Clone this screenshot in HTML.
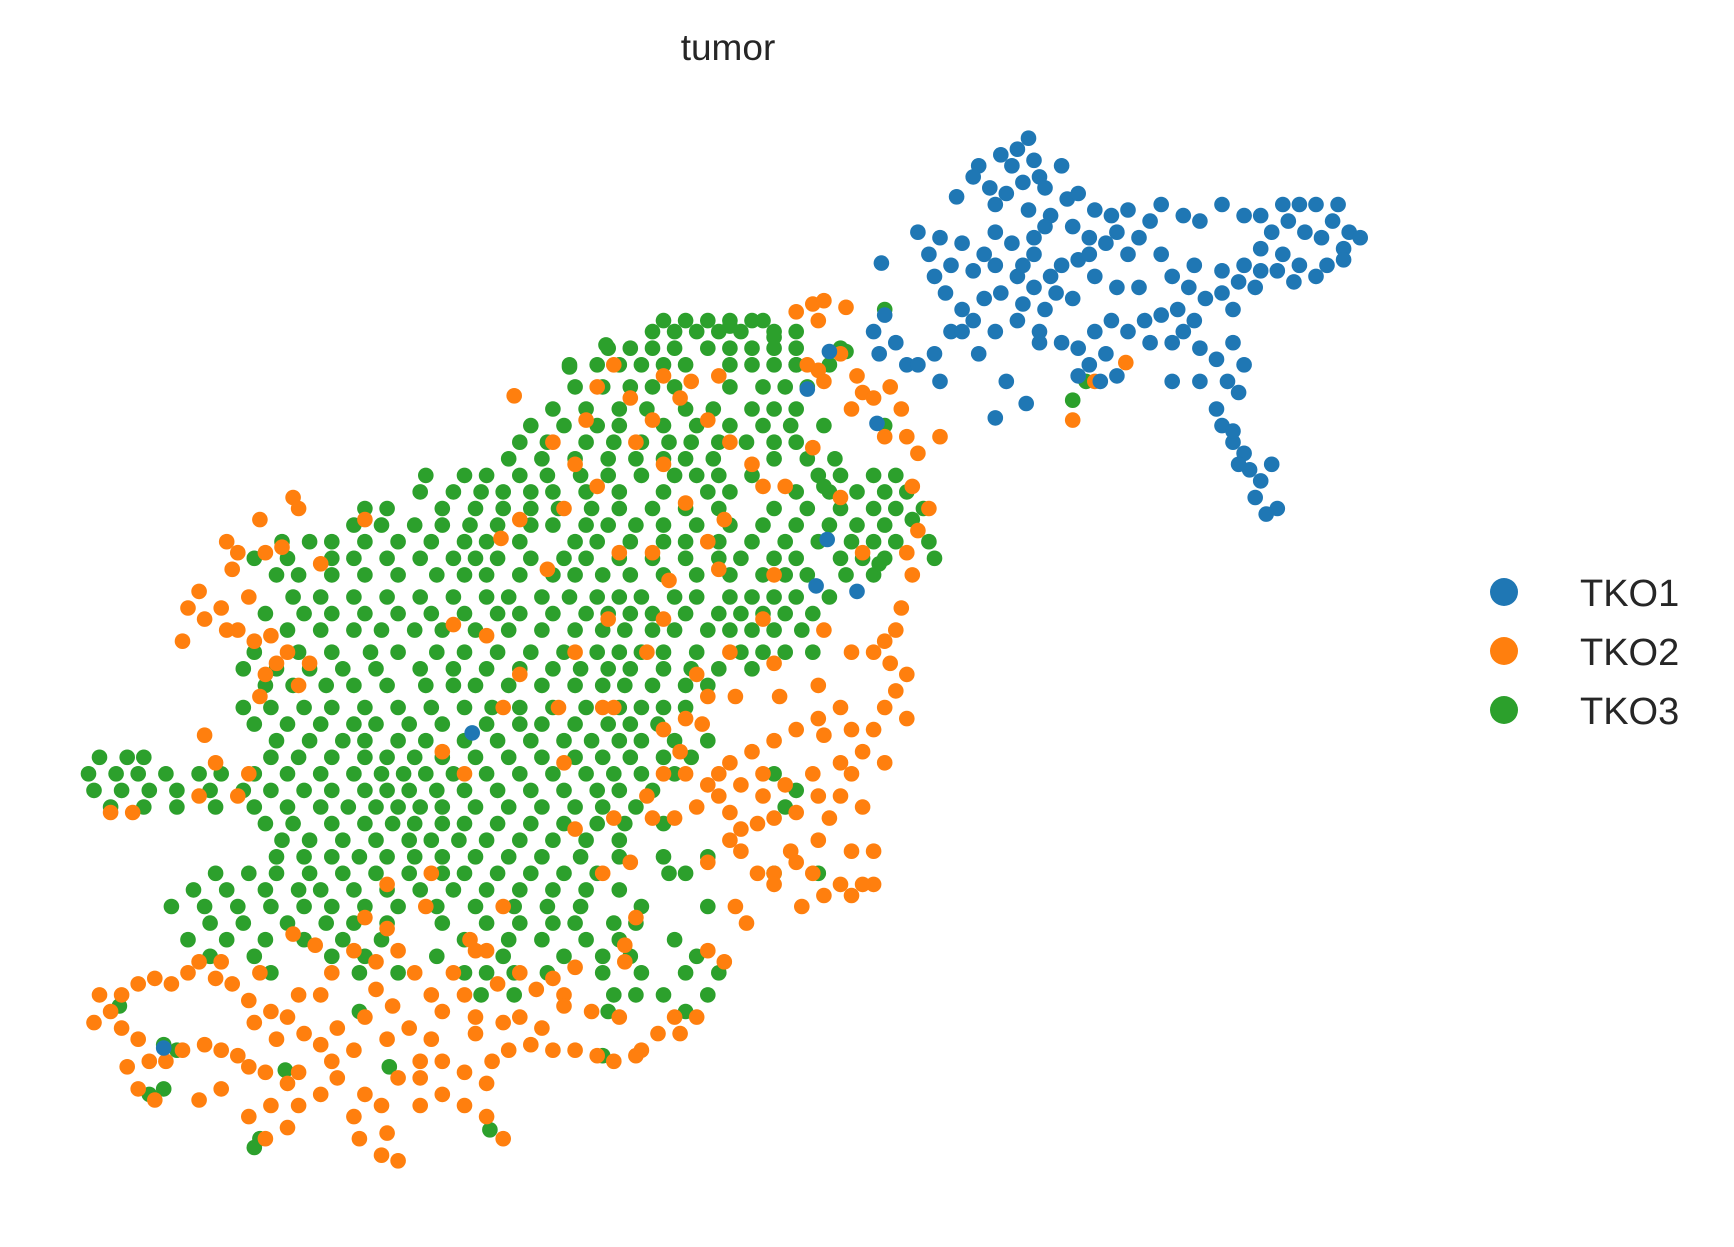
<!DOCTYPE html>
<html><head><meta charset="utf-8"><style>
html,body{margin:0;padding:0;background:#fff;}
svg{display:block;font-family:"Liberation Sans",Arial,sans-serif;}
</style></head><body>
<svg id="chart" width="1734" height="1247" viewBox="0 0 1734 1247" xmlns="http://www.w3.org/2000/svg">
<rect width="1734" height="1247" fill="#fff"/>
<text x="728" y="60" font-size="37" fill="#262626" text-anchor="middle">tumor</text>
<g id="points"></g>
<g>
<g><circle cx="1504" cy="592" r="14" fill="#1f77b4"/><text x="1580" y="606" font-size="38" fill="#262626">TKO1</text></g>
<g><circle cx="1504" cy="651" r="14" fill="#ff7f0e"/><text x="1580" y="665" font-size="38" fill="#262626">TKO2</text></g>
<g><circle cx="1504" cy="710" r="14" fill="#2ca02c"/><text x="1580" y="724" font-size="38" fill="#262626">TKO3</text></g>
</g>
</svg>
<script>
const categories = ["TKO1","TKO2","TKO3"];
const colors = ["#1f77b4","#ff7f0e","#2ca02c"];
const tko1Points = [[930,125],[920,135],[905,140],[935,145],[915,150],[940,160],[925,165],[945,170],[885,150],[880,160],[865,178],[895,170],[910,175],[900,185],[930,190],[950,195],[965,180],[975,175],[990,190],[1005,195],[1020,190],[970,205],[985,215],[945,205],[935,215],[915,220],[890,230],[870,220],[850,215],[830,210],[840,230],[860,240],[880,245],[900,240],[920,250],[935,260],[955,265],[970,270],[945,280],[925,275],[905,265],[890,270],[870,280],[855,265],[845,250],[880,290],[900,300],[920,290],[940,300],[960,310],[975,315],[990,300],[1005,290],[1020,300],[1035,290],[1050,285],[1040,310],[1060,310],[1080,290],[1000,320],[985,330],[995,345],[1010,340],[975,340],[940,310],[910,345],[900,378],[928,365],[860,300],[845,320],[885,320],[870,300],[797,238],[800,285],[790,300],[810,310],[820,330],[795,320],[850,345],[830,330],[1090,270],[1105,265],[1115,280],[1070,300],[1085,315],[1100,325],[1115,310],[1125,330],[1085,345],[1060,345],[1110,345],[1120,355],[1100,370],[1105,385],[1115,400],[1125,410],[1130,425],[1140,435],[1135,450],[1155,460],[1145,465],[1150,420],[1120,420],[1115,390],[1050,185],[1070,195],[1085,200],[1105,185],[1125,195],[1140,195],[1160,185],[1175,185],[1190,185],[1210,185],[1205,200],[1220,210],[1230,215],[1215,225],[1195,215],[1180,210],[1165,200],[1150,210],[1140,225],[1160,230],[1175,240],[1190,250],[1170,255],[1155,245],[1140,245],[1135,260],[1120,255],[1105,245],[1125,240],[1200,240],[1215,235],[1030,215],[1050,230],[1020,230],[1000,220],[960,240],[975,235],[990,250],[1010,260],[1030,260],[1060,250],[1080,240],[1040,200],[1010,210],[935,230],[960,150],[985,230],[900,210],[950,250],[925,240],[1065,280],[1075,260],[730,352],[750,318],[793,383],[748,488],[775,535],[738,530],[427,663],[148,948]];
const tko2Points = [[720,282],[735,275],[745,272],[765,278],[740,290],[760,320],[740,335],[730,330],[745,345],[775,340],[780,355],[770,370],[790,360],[805,350],[815,370],[800,395],[820,395],[830,410],[850,395],[825,440],[840,460],[830,480],[820,500],[825,520],[815,550],[810,570],[800,580],[805,600],[820,610],[810,625],[800,640],[820,650],[790,660],[780,680],[800,690],[770,700],[760,720],[780,730],[750,740],[740,760],[770,770],[790,770],[790,800],[770,810],[780,800],[760,800],[745,810],[725,820],[735,790],[720,780],[700,800],[715,770],[700,740],[685,745],[670,750],[660,735],[650,720],[640,710],[630,730],[610,740],[660,690],[680,680],[700,670],[720,660],[740,650],[760,640],[745,665],[770,660],[760,690],[735,700],[710,710],[690,700],[670,710],[650,700],[690,720],[720,735],[740,720],[640,780],[660,760],[700,790],[665,820],[640,860],[655,870],[630,920],[610,920],[615,935],[595,935],[580,950],[560,920],[535,915],[510,900],[490,930],[470,920],[455,925],[430,935],[420,900],[400,915],[390,940],[380,960],[370,930],[350,940],[330,920],[320,950],[305,930],[290,945],[275,935],[260,920],[245,915],[225,905],[210,890],[195,885],[180,870],[170,880],[155,890],[140,885],[125,890],[110,900],[100,915],[85,925],[90,900],[110,930],[125,940],[135,960],[150,960],[165,950],[185,945],[200,950],[215,955],[225,965],[240,970],[260,980],[270,1000],[245,1000],[225,1010],[200,985],[180,995],[140,995],[125,985],[115,965],[240,1030],[260,1020],[290,990],[305,975],[330,990],[345,1000],[320,1010],[325,1030],[345,1045],[360,1050],[350,1025],[380,1000],[400,990],[420,1000],[440,980],[420,970],[400,960],[440,1010],[455,1030],[445,960],[460,950],[480,945],[500,950],[520,950],[540,955],[555,960],[575,955],[300,880],[320,860],[340,870],[360,860],[375,880],[390,900],[410,880],[430,860],[450,890],[470,880],[485,895],[500,885],[520,875],[510,910],[270,900],[290,900],[250,940],[340,895],[355,910],[330,830],[350,840],[265,845],[235,880],[270,970],[200,870],[230,925],[300,960],[360,975],[380,975],[430,920],[205,490],[215,500],[235,470],[265,450],[270,460],[210,515],[240,500],[255,495],[180,535],[170,550],[185,560],[165,580],[200,550],[225,540],[230,580],[245,575],[250,600],[240,610],[260,590],[270,620],[280,600],[215,570],[205,570],[185,665],[195,690],[215,720],[180,720],[100,735],[120,735],[225,700],[235,630],[465,358],[330,470],[495,515],[410,565],[440,575],[470,610],[520,590],[550,560],[605,525],[600,560],[585,590],[555,640],[600,660],[620,650],[640,630],[665,630],[705,630],[630,610],[660,590],[700,600],[690,560],[745,570],[770,590],[790,590],[740,620],[545,640],[505,640],[690,440],[680,420],[660,400],[640,380],[615,360],[600,340],[625,345],[650,340],[590,380],[575,400],[540,440],[520,420],[500,400],[510,460],[560,500],[590,500],[640,490],[655,470],[620,455],[600,420],[570,360],[555,330],[540,350],[530,380],[710,440],[735,405],[760,450],[780,500],[570,780],[585,720],[545,790],[520,750],[575,830],[565,855],[455,820],[440,860],[425,850],[385,820],[390,790],[350,800],[285,855],[290,510],[470,470],[453,487],[455,640],[510,690],[400,680],[420,700],[650,515],[700,520],[615,680],[620,700],[600,700],[590,740],[555,740],[635,655],[565,870],[675,835],[670,770],[685,790],[970,380],[990,345],[1018,328]];
const tko3RowY = [290,300,315,330,350,370,385,400,415,430,445,460,475,490,505,520,540,555,570,590,605,620,640,655,670,685,700,715,730,745,760,775,790,805,820,835,850,865,880,900,915];
const tko3RowX = [
[600,620,640,660,680,690],
[590,610,630,650,670,700,720],
[550,570,590,610,640,660,680,700,720,760],
[515,540,560,580,600,620,660,680,700,720,750],
[520,545,570,590,610,660,690,710,730],
[500,530,560,585,620,645,680,700,720],
[480,510,540,560,600,630,660,690,715,745,800],
[470,495,530,555,580,605,625,650,675,700,720],
[460,490,520,550,575,600,620,645,700,730,755],
[385,420,440,470,495,525,550,580,610,630,650,680,740,760,790,810],
[380,410,435,455,480,500,530,560,600,640,660,720,750,775,800,820],
[330,350,400,430,455,480,505,535,560,590,620,650,700,730,760,790,810,835],
[320,345,375,400,425,450,480,500,530,550,575,600,630,660,690,720,750,775,800],
[255,280,300,330,360,390,420,440,470,520,540,570,600,620,650,680,710,740,770,790,810,840],
[230,260,300,320,350,380,410,430,450,480,510,530,560,590,620,650,670,700,720,760,780,800,845],
[250,270,300,330,360,395,420,440,470,500,520,545,570,600,630,660,690,710,730,765,790],
[265,290,320,350,380,410,440,460,490,515,540,560,580,610,630,660,680,700,720,750],
[240,275,300,330,360,390,420,450,470,500,530,550,570,590,620,650,670,690,710,735],
[260,290,320,345,375,400,430,460,490,520,545,565,590,610,640,660,680,700,725],
[230,270,300,335,360,395,420,450,480,510,540,560,580,600,630,670,690,710,735],
[220,250,280,310,340,380,410,440,470,500,525,550,570,600,625,650,680],
[240,265,295,320,350,385,410,430,460,490,520,545,565,590,620,640],
[220,245,275,300,330,360,390,420,445,470,500,530,560,580,600,620],
[230,260,290,320,340,370,400,440,470,490,520,550,570,595],
[250,280,310,330,360,385,420,450,480,510,535,560,580,610,640],
[90,115,130,245,270,300,330,350,375,400,430,460,490,520,545,570,600,625],
[80,105,125,150,180,200,230,260,290,320,345,365,385,410,440,470,500,530,555,580,610,700],
[85,110,135,160,190,220,245,275,300,330,350,370,395,420,450,480,510,540,560,590,720],
[100,130,160,195,230,260,290,315,340,360,380,400,430,460,490,520,545,575,710],
[240,265,300,330,355,375,400,420,450,480,510,540,565,600],
[255,280,310,340,370,390,415,440,470,500,530,560],
[250,275,300,325,350,375,400,430,460,490,525,560,600,640],
[195,225,250,280,310,340,370,400,420,450,480,510,540,605,620,700,740],
[175,205,240,270,290,320,350,380,410,440,470,500,530,560],
[155,185,215,245,275,300,330,360,395,430,465,495,525,580,640],
[190,220,260,295,320,350,400,440,470,500,520,555,575],
[170,205,240,275,310,345,420,460,490,530,560,610],
[190,230,300,330,395,455,510,545,570,630],
[245,325,360,420,440,465,495,545,580,620,650],
[435,465,555,575,600,640],
[325,550,620]
];
const tko3Extra = [[108,910],[148,945],[160,950],[135,990],[148,985],[235,1030],[258,968],[352,965],[443,1022],[545,955],[230,1038],[970,362],[982,345],[800,280],[765,318],[720,330],[745,440],[795,510],[825,470],[515,332],[548,312],[660,295],[700,305]];

// axis functions: data (umap-like units) -> pixels
const xDomain=[0,1568], xRange=[0,1734];
const yDomain=[0,1128], yRange=[0,1247];
function xScale(v){return xRange[0]+(v-xDomain[0])/(xDomain[1]-xDomain[0])*(xRange[1]-xRange[0]);}
function yScale(v){return yRange[0]+(v-yDomain[0])/(yDomain[1]-yDomain[0])*(yRange[1]-yRange[0]);}

const NS="http://www.w3.org/2000/svg";
const g=document.getElementById('points');
function dot(p,color,name){
  const c=document.createElementNS(NS,'circle');
  c.setAttribute('cx',xScale(p[0]).toFixed(1));
  c.setAttribute('cy',yScale(p[1]).toFixed(1));
  c.setAttribute('r','7.8');
  c.setAttribute('fill',color);
  
  
  g.appendChild(c);
}
const tko3Points=[];
tko3RowY.forEach((y,i)=>tko3RowX[i].forEach(x=>tko3Points.push([x,y])));
tko3Extra.forEach(p=>tko3Points.push(p));
tko3Points.forEach(p=>dot(p,colors[2],'point-tko3'));
tko2Points.forEach(p=>dot(p,colors[1],'point-tko2'));
tko1Points.forEach(p=>dot(p,colors[0],'point-tko1'));
</script>
</body></html>
